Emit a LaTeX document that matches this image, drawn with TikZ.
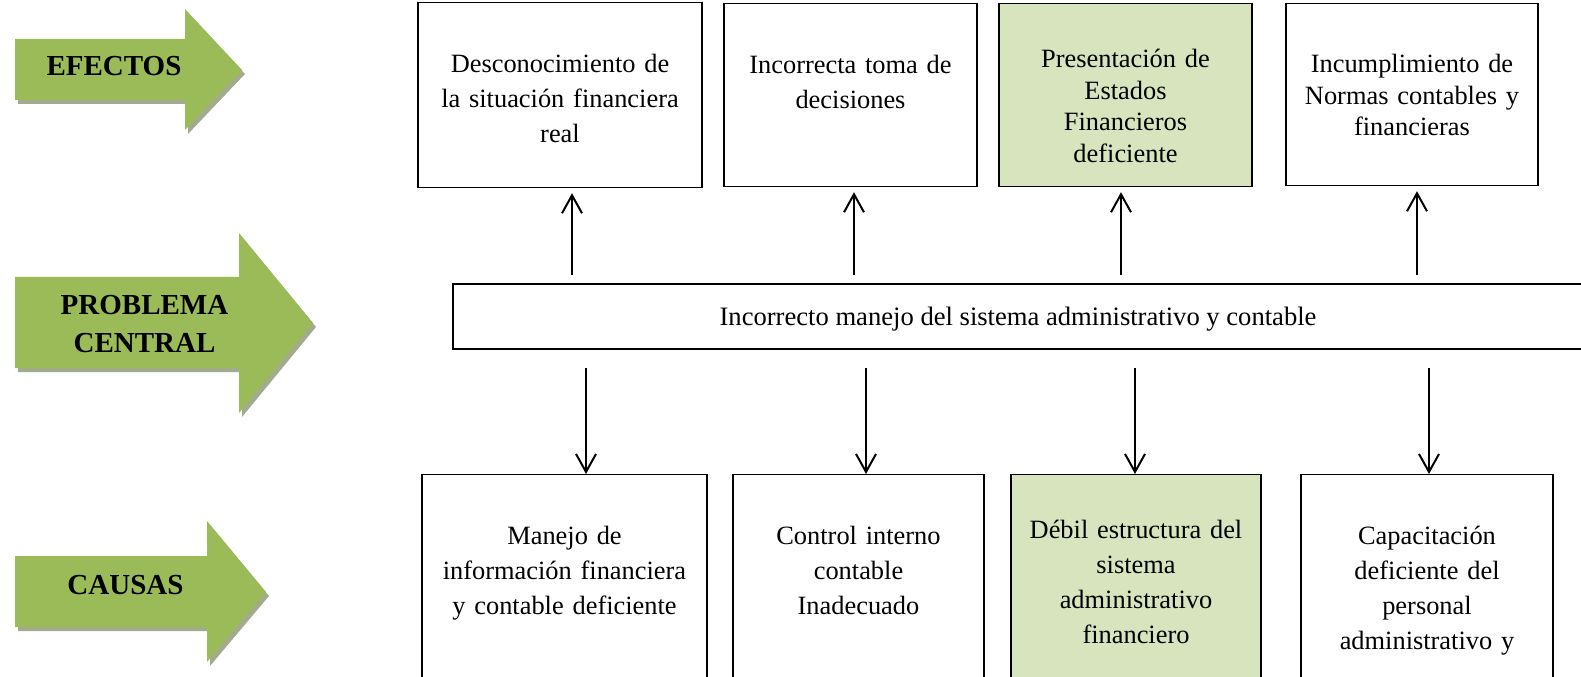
\documentclass[tikz,border=0pt]{standalone}
\usepackage{fontspec}
\setmainfont{Liberation Serif}
\usetikzlibrary{arrows.meta,shadows}

\definecolor{arrowgreen}{HTML}{9BBB59}
\definecolor{shadowgreen}{HTML}{A3AB8E}
\definecolor{boxgreen}{HTML}{D7E4BD}

\begin{document}
\begin{tikzpicture}[x=0.5pt,y=0.5pt,
    every node/.style={font=\fontsize{13.2}{17.5}\selectfont},
    box/.style={draw, line width=0.6pt, anchor=north, align=center, text width=123pt, inner xsep=0pt, inner ysep=0pt, text height=35pt},
    conn/.style={-{Straight Barb[length=9pt,width=10pt]}, line width=1pt},
    tag/.style={font=\fontsize{14.5}{19}\selectfont\bfseries, align=center},
    bigarrow/.style={fill=arrowgreen, drop shadow={fill=shadowgreen, opacity=1, shadow xshift=1.5pt, shadow yshift=-2pt}}]

    \useasboundingbox (0,0) rectangle (1581,676);
    \clip (0,0) rectangle (1581,676);

    % green arrows on the left
    \fill[bigarrow] (15,637) -- (185,637) -- (185,667) -- (242,606) -- (185,546) -- (185,576) -- (15,576) -- cycle;
    \fill[bigarrow] (15,399) -- (239,399) -- (239,443) -- (313,353) -- (239,263) -- (239,308) -- (15,308) -- cycle;
    \fill[bigarrow] (15,120) -- (207,120) -- (207,155) -- (266,84) -- (207,14) -- (207,49) -- (15,49) -- cycle;

    \node[tag] (efectos)  at (114,609.5)   {EFECTOS};
    \node[tag] (problema) at (144.5,351.5) {PROBLEMA\\CENTRAL};
    \node[tag] (causas)   at (125.5,91)    {CAUSAS};

    % efectos
    \node[box, minimum width=142pt, text depth=57.5pt]   (e1) at (560,674)    {Desconocimiento de\\la situación financiera\\real};
    \node[box, minimum width=126.5pt, text depth=56.5pt] (e2) at (850.5,673)  {Incorrecta toma de\\decisiones};
    \node[box, fill=boxgreen, minimum width=126.5pt, text height=32pt, text depth=59.5pt,
          font=\fontsize{13.2}{15.75}\selectfont]       (e3) at (1125.5,673) {Presentación de\\Estados\\Financieros\\deficiente};
    \node[box, minimum width=126pt, text height=34.5pt, text depth=56.5pt,
          font=\fontsize{13.2}{15.75}\selectfont]       (e4) at (1412,673)   {Incumplimiento de\\Normas contables y\\financieras};

    % problema central
    \node[draw, line width=1.4pt, minimum width=565pt, minimum height=32.5pt, text depth=0pt,
          font=\fontsize{13.3}{16}\selectfont] (central) at (1018,359.5)
        {Incorrecto manejo del sistema administrativo y contable};

    % causas
    \node[box, minimum width=142.5pt, text depth=95pt]                  (c1) at (564.5,202) {Manejo de\\información financiera\\y contable deficiente};
    \node[box, minimum width=125.5pt, text depth=95pt]                  (c2) at (858.5,202) {Control interno\\contable\\Inadecuado};
    \node[box, fill=boxgreen, minimum width=125pt, text height=32pt, text depth=98pt] (c3) at (1136,202) {Débil estructura del\\sistema\\administrativo\\financiero};
    \node[box, minimum width=126pt, text depth=95pt]                    (c4) at (1427,202)  {Capacitación\\deficiente del\\personal\\administrativo y};

    \draw[conn] ([xshift=6pt,yshift=4pt]central.north -| e1.south)     -- ([xshift=6pt,yshift=-2.5pt]e1.south);
    \draw[conn] ([xshift=1.75pt,yshift=4pt]central.north -| e2.south)  -- ([xshift=1.75pt,yshift=-2.5pt]e2.south);
    \draw[conn] ([xshift=-2.25pt,yshift=4pt]central.north -| e3.south) -- ([xshift=-2.25pt,yshift=-2.5pt]e3.south);
    \draw[conn] ([xshift=2.5pt,yshift=4pt]central.north -| e4.south)   -- ([xshift=2.5pt,yshift=-2.5pt]e4.south);

    \draw[conn] ([xshift=10.75pt,yshift=-9pt]central.south -| c1.north) -- ([xshift=10.75pt]c1.north);
    \draw[conn] ([xshift=3.75pt,yshift=-9pt]central.south -| c2.north)  -- ([xshift=3.75pt]c2.north);
    \draw[conn] ([xshift=-0.5pt,yshift=-9pt]central.south -| c3.north)  -- ([xshift=-0.5pt]c3.north);
    \draw[conn] ([xshift=1pt,yshift=-9pt]central.south -| c4.north)     -- ([xshift=1pt]c4.north);
\end{tikzpicture}
\end{document}
